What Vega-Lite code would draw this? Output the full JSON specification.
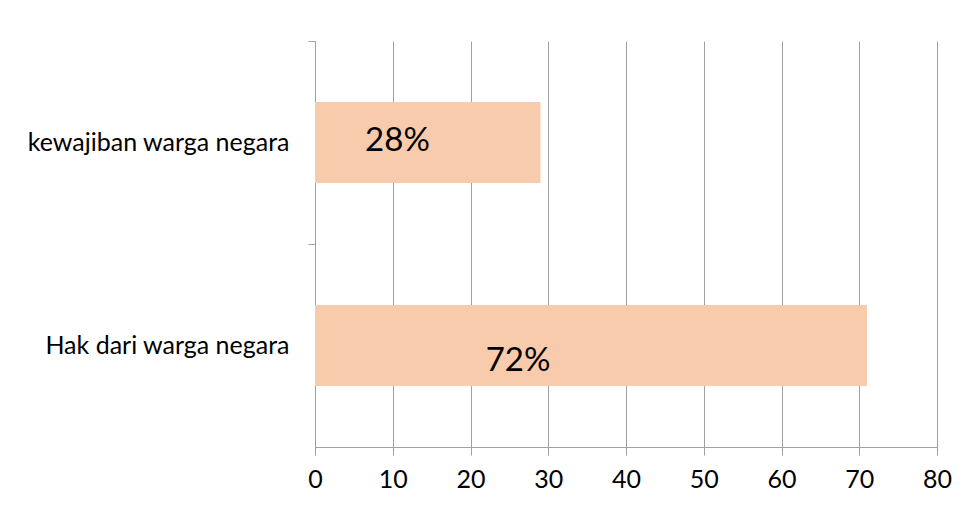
{
  "$schema": "https://vega.github.io/schema/vega-lite/v6.json",
  "width": 622,
  "height": 406,
  "autosize": {"type": "none"},
  "padding": {"left": 315, "top": 41, "right": 33, "bottom": 59},
  "background": "white",
  "config": {"view": {"stroke": null}, "font": "Lato"},
  "data": {
    "values": [
      {"category": "kewajiban warga negara", "value": 29, "label": "28%"},
      {"category": "Hak dari warga negara", "value": 71, "label": "72%"}
    ]
  },
  "encoding": {
    "y": {
      "field": "category",
      "type": "nominal",
      "sort": null,
      "scale": {"paddingInner": 0, "paddingOuter": 0},
      "axis": {
        "title": null,
        "bandPosition": 0,
        "labelOffset": 0,
        "labelFontSize": 25,
        "labelColor": "#000000",
        "labelFont": "Lato",
        "labelPadding": 19,
        "labelLimit": 400,
        "tickSize": 7,
        "tickColor": "#A0A0A0",
        "domainColor": "#A0A0A0",
        "grid": false
      }
    }
  },
  "layer": [
    {
      "mark": {"type": "bar", "color": "#F8CBAD", "height": {"band": 0.4}},
      "encoding": {
        "x": {
          "field": "value",
          "type": "quantitative",
          "scale": {"domain": [0, 80], "nice": false},
          "axis": {
            "title": null,
            "values": [0, 10, 20, 30, 40, 50, 60, 70, 80],
            "grid": true,
            "gridColor": "#A0A0A0",
            "domainColor": "#A0A0A0",
            "tickColor": "#A0A0A0",
            "tickSize": 8,
            "labelFlush": false,
            "labelFontSize": 25,
            "labelColor": "#000000",
            "labelFont": "Lato",
            "labelPadding": 12
          }
        }
      }
    },
    {
      "transform": [{"filter": "datum.category === 'kewajiban warga negara'"}],
      "mark": {"type": "text", "dx": -143, "dy": -2, "fontSize": 33, "font": "Lato", "color": "#000000", "align": "center", "baseline": "middle"},
      "encoding": {
        "x": {"field": "value", "type": "quantitative"},
        "text": {"field": "label"}
      }
    },
    {
      "transform": [{"filter": "datum.category === 'Hak dari warga negara'"}],
      "mark": {"type": "text", "dx": -349, "dy": 15, "fontSize": 33, "font": "Lato", "color": "#000000", "align": "center", "baseline": "middle"},
      "encoding": {
        "x": {"field": "value", "type": "quantitative"},
        "text": {"field": "label"}
      }
    }
  ]
}
